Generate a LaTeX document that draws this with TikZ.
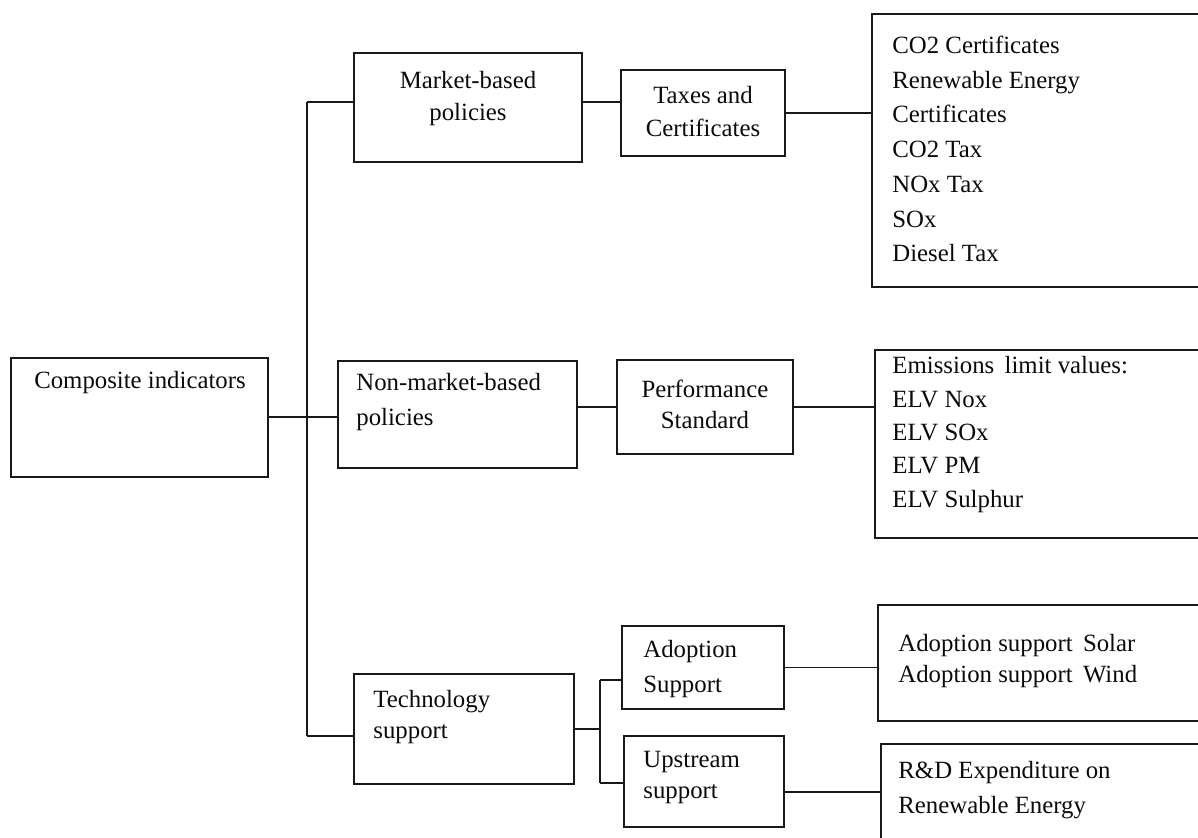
\documentclass[tikz,border=0pt]{standalone}
\usepackage{fontspec}
\setmainfont{Liberation Serif}
\usetikzlibrary{fit}
\definecolor{boxStroke}{RGB}{25,25,25}
\definecolor{boxText}{RGB}{10,10,10}

\begin{document}
\begin{tikzpicture}[
  x=0.5pt,
  y=-0.5pt,
  box/.style={draw=boxStroke, line width=0.7pt, inner sep=0pt},
  link/.style={draw=boxStroke, line width=0.7pt},
  labelText/.style={font=\fontsize{12.4}{#1}\selectfont, text=boxText, inner sep=0pt},
  labelText/.default=16,
  listText/.style={labelText=#1, align=left, anchor=west}
]
  \clip (0,0) rectangle (1198,838);

  % boxes, left to right
  \node[box, fit={(11,358) (268,477)}] (comp) {};
  \node[box, fit={(354,53) (582,162)}] (market) {};
  \node[box, fit={(338,361) (577,468)}] (nonMarket) {};
  \node[box, fit={(354,674) (574,784)}] (tech) {};
  \node[box, fit={(621,70) (785,156)}] (taxes) {};
  \node[box, fit={(617,360) (793,454)}] (perf) {};
  \node[box, fit={(622,626) (784,709)}] (adopt) {};
  \node[box, fit={(624,736) (784,827)}] (upstream) {};
  \node[box, fit={(872,14) (1210,287)}] (certList) {};
  \node[box, fit={(875,350) (1210,538)}] (elvList) {};
  \node[box, fit={(878,605) (1210,721)}] (adoptList) {};
  \node[box, fit={(881,744) (1210,840)}] (rdList) {};

  % texts
  \node[labelText] (compText) at (140,383) {Composite indicators};
  \node[labelText=16, align=center] (marketText) at (468,99) {Market-based\\policies};
  \node[listText=17.5] (nonMarketText) at (356,402.5) {Non-market-based\\policies};
  \node[listText=15.5] (techText) at (373,717.5) {Technology\\support};
  \node[labelText=16.5, align=center] (taxesText) at (703,111.5) {Taxes and\\Certificates};
  \node[labelText=15.5, align=center] (perfText) at (705,404.5) {Performance\\Standard};
  \node[listText=17.5] (adoptText) at (643,669.5) {Adoption\\Support};
  \node[listText=15.5] (upstreamText) at (643,777.5) {Upstream\\support};
  \node[listText=17.35] (certText) at (892,149) {CO2 Certificates\\Renewable Energy\\Certificates\\CO2 Tax\\NOx Tax\\SOx\\Diesel Tax};
  \node[listText=16.65] (elvText) at (892,434.5) {Emissions\, limit values:\\ELV Nox\\ELV SOx\\ELV PM\\ELV Sulphur};
  \node[listText=15.5] (adoptListText) at (898,661) {Adoption support\, Solar\\Adoption support\, Wind};
  \node[listText=17.5] (rdText) at (898,790.5) {R\&D Expenditure on\\Renewable Energy};

  % trunk and branches
  \coordinate (trunkTop) at (307,102);
  \coordinate (trunkMid) at (307,417);
  \coordinate (trunkBot) at (307,736);
  \coordinate (subTop) at (600,680);
  \coordinate (subBot) at (600,783);

  \draw[link] (trunkTop) -- (trunkBot);
  \draw[link] (trunkTop) -- (market.west |- trunkTop);
  \draw[link] (comp.east |- trunkMid) -- (nonMarket.west |- trunkMid);
  \draw[link] (trunkBot) -- (tech.west |- trunkBot);

  \draw[link] (market.east |- trunkTop) -- (taxes.west |- trunkTop);
  \draw[link] (taxes.east) -- (certList.west |- taxes.east);
  \draw[link] (nonMarket.east |- perf.west) -- (perf.west);
  \draw[link] (perf.east) -- (elvList.west |- perf.east);

  \draw[link] (subTop) -- (subBot);
  \draw[link] (tech.east) -- (subTop |- tech.east);
  \draw[link] (subTop) -- (adopt.west |- subTop);
  \draw[link] (subBot) -- (upstream.west |- subBot);
  \draw[link] (adopt.east) -- (adoptList.west |- adopt.east);
  \draw[link] (upstream.east |- rdList.west) -- (rdList.west);
\end{tikzpicture}
\end{document}
